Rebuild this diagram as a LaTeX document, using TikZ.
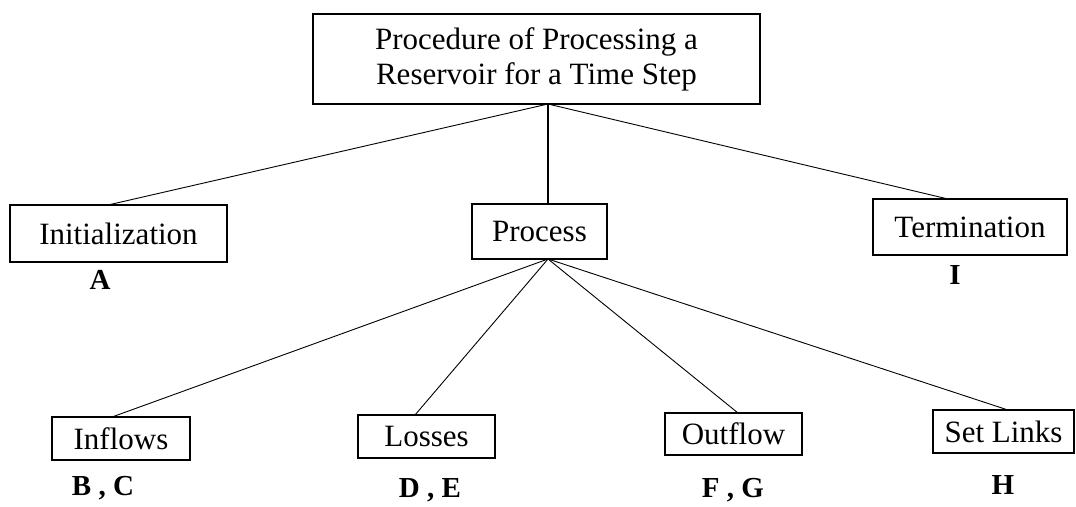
\documentclass[tikz,border=0pt]{standalone}
\usepackage{fontspec}
\setmainfont{Liberation Serif}
\begin{document}
\begin{tikzpicture}[x=1pt,y=-1pt,
  box/.style={draw,line width=1.3pt,inner sep=0pt,font=\fontsize{31}{35}\selectfont,align=center},
  lbl/.style={font=\fontsize{29}{30}\selectfont\bfseries},
  conn/.style={line width=0.9pt},
  thick conn/.style={line width=2pt}]
\useasboundingbox (0,0) rectangle (1076,506);
\node[box,minimum width=447pt,minimum height=90pt] (top) at (536.5,59) {Procedure of Processing a\\Reservoir for a Time Step};
\node[box,minimum width=217pt,minimum height=57pt] (init) at (118.5,233.5) {Initialization};
\node[box,minimum width=135pt,minimum height=55pt] (proc) at (539.5,231.5) {Process};
\node[box,minimum width=194pt,minimum height=56pt] (term) at (970,227) {Termination};
\node[box,minimum width=138pt,minimum height=43pt] (infl) at (121,438.5) {Inflows};
\node[box,minimum width=137pt,minimum height=43pt] (loss) at (426.5,436.5) {Losses};
\node[box,minimum width=137pt,minimum height=42pt] (outf) at (733.5,434) {Outflow};
\node[box,minimum width=141pt,minimum height=43pt] (setl) at (1003.5,431.5) {Set Links};
\node[lbl] (la) at (100,280) {A};
\node[lbl] (li) at (955,275) {I};
\node[lbl] (lbc) at (103,488) {B , C};
\node[lbl] (lde) at (430,490) {D , E};
\node[lbl] (lfg) at (733,490) {F , G};
\node[lbl] (lh) at (1003,485) {H};
\coordinate (j1) at (548,104);
\coordinate (j2) at (548,259);
\coordinate (initT) at (108,205);
\coordinate (procT) at (548,204);
\coordinate (termT) at (948,199);
\coordinate (inflT) at (112,417);
\coordinate (lossT) at (415,415);
\coordinate (outfT) at (738,413);
\coordinate (setlT) at (1008,410);
\draw[conn] (j1) -- (initT);
\draw[thick conn] (j1) -- (procT);
\draw[conn] (j1) -- (termT);
\draw[conn] (j2) -- (inflT);
\draw[conn] (j2) -- (lossT);
\draw[conn] (j2) -- (outfT);
\draw[conn] (j2) -- (setlT);
\end{tikzpicture}
\end{document}
